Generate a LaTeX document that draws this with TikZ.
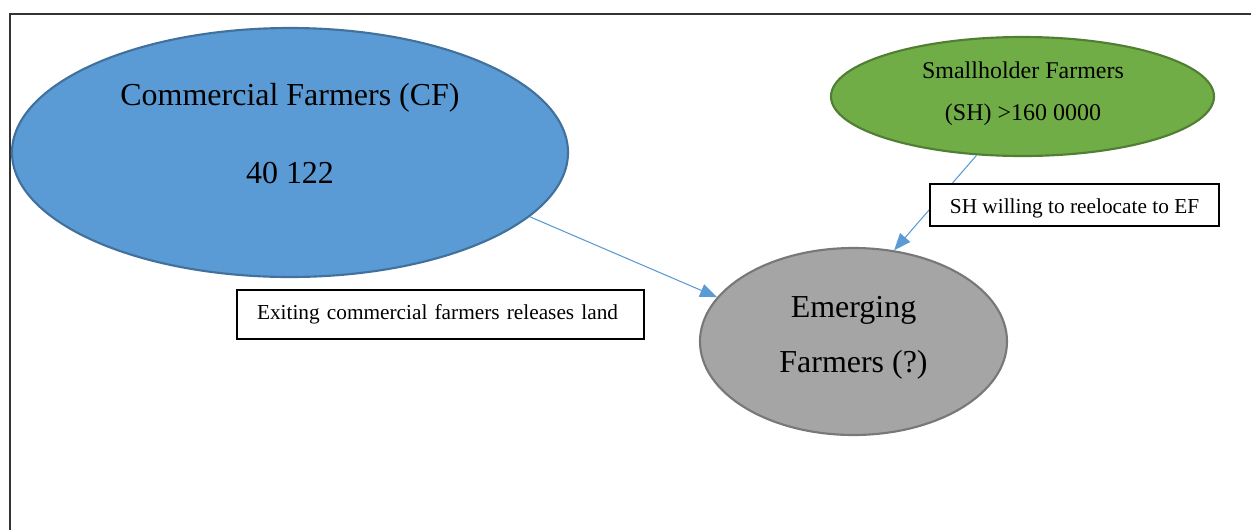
\documentclass[tikz,border=0pt]{standalone}
\usepackage{fontspec}
\setmainfont{Liberation Serif}
\usetikzlibrary{shapes.geometric,arrows.meta}
\definecolor{cfblue}{HTML}{5B9BD5}
\definecolor{cfedge}{HTML}{41719C}
\definecolor{shgreen}{HTML}{70AD47}
\definecolor{shedge}{HTML}{507E32}
\definecolor{efgray}{HTML}{A5A5A5}
\definecolor{efedge}{HTML}{787878}
\def\pxu{0.563pt}

\begin{document}
\begin{tikzpicture}[x=\pxu,y=-\pxu,
	farmgroup/.style={ellipse,inner sep=0pt,line width=1.2pt},
	bigtext/.style={anchor=base,font=\fontsize{18}{21.6}\selectfont},
	midtext/.style={anchor=base,font=\fontsize{13.5}{16}\selectfont},
	notebox/.style={draw=black,line width=0.7pt,fill=white,inner xsep=20*\pxu,inner ysep=0pt,align=left,font=\fontsize{12}{14}\selectfont},
	flowline/.style={cfblue,line width=0.6pt,-{Triangle[length=9.5pt,width=7.5pt]}}]
		\useasboundingbox(0,0)rectangle(1251,530);
		\draw[black!80,line width=1pt](10,530)--(10,14)--(1251,14);
		\node[farmgroup,fill=cfblue,draw=cfedge,minimum width=556*\pxu,minimum height=249*\pxu](cf)at(290,152.5){};
		\node[farmgroup,fill=shgreen,draw=shedge,minimum width=383*\pxu,minimum height=119*\pxu](sh)at(1022.5,96.5){};
		\node[farmgroup,fill=efgray,draw=efedge,minimum width=307*\pxu,minimum height=187*\pxu](ef)at(853.5,341.5){};
		\node[bigtext](cfname)at(290,105){Commercial Farmers (CF)};
		\node[bigtext](cfcount)at(290,183){40 122};
		\node[midtext](shname)at(1023,78){Smallholder Farmers};
		\node[midtext](shcount)at(1023,120){(SH) >160 0000};
		\node[bigtext](efname)at(853.5,317){Emerging};
		\node[bigtext](efcount)at(853.5,372){Farmers (?)};
		\draw[flowline](cf.-15.5)--(ef.162.6);
		\draw[flowline](sh.232.7)--(ef.66.5);
		\node[notebox,text width=206.6pt,minimum width=407*\pxu,minimum height=49*\pxu,text height=8.5pt,text depth=2.5pt](exitnote)at(440.5,314.5){Exiting commercial farmers releases land};
		\node[notebox,minimum width=289*\pxu,minimum height=42*\pxu,text height=10pt,text depth=0pt](movenote)at(1074.5,205){SH willing to reelocate to EF};
		\end{tikzpicture}
\end{document}
